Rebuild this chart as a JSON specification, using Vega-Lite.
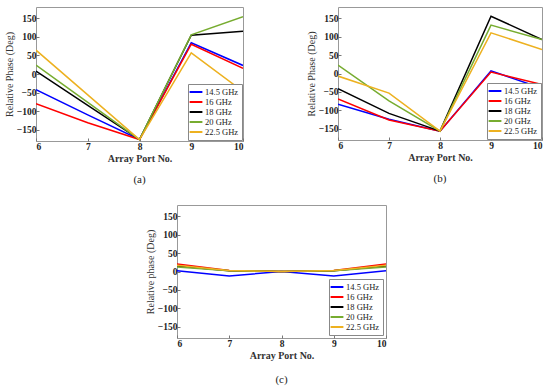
{
  "$schema": "https://vega.github.io/schema/vega-lite/v6.json",
  "padding": {"left": 3, "top": 6, "right": 4, "bottom": 2},
  "background": "white",
  "datasets": {
    "a": [
      {"port": 6, "f": "14.5 GHz", "phase": -42}, {"port": 7, "f": "14.5 GHz", "phase": -110}, {"port": 8, "f": "14.5 GHz", "phase": -176}, {"port": 9, "f": "14.5 GHz", "phase": 84}, {"port": 10, "f": "14.5 GHz", "phase": 23},
      {"port": 6, "f": "16 GHz", "phase": -80}, {"port": 7, "f": "16 GHz", "phase": -131}, {"port": 8, "f": "16 GHz", "phase": -176}, {"port": 9, "f": "16 GHz", "phase": 80}, {"port": 10, "f": "16 GHz", "phase": 15},
      {"port": 6, "f": "18 GHz", "phase": 8}, {"port": 7, "f": "18 GHz", "phase": -84}, {"port": 8, "f": "18 GHz", "phase": -176}, {"port": 9, "f": "18 GHz", "phase": 104}, {"port": 10, "f": "18 GHz", "phase": 115},
      {"port": 6, "f": "20 GHz", "phase": 24}, {"port": 7, "f": "20 GHz", "phase": -76}, {"port": 8, "f": "20 GHz", "phase": -176}, {"port": 9, "f": "20 GHz", "phase": 105}, {"port": 10, "f": "20 GHz", "phase": 154},
      {"port": 6, "f": "22.5 GHz", "phase": 64}, {"port": 7, "f": "22.5 GHz", "phase": -56}, {"port": 8, "f": "22.5 GHz", "phase": -176}, {"port": 9, "f": "22.5 GHz", "phase": 57}, {"port": 10, "f": "22.5 GHz", "phase": -47}
    ],
    "b": [
      {"port": 6, "f": "14.5 GHz", "phase": -83}, {"port": 7, "f": "14.5 GHz", "phase": -124}, {"port": 8, "f": "14.5 GHz", "phase": -156}, {"port": 9, "f": "14.5 GHz", "phase": 7}, {"port": 10, "f": "14.5 GHz", "phase": -40},
      {"port": 6, "f": "16 GHz", "phase": -69}, {"port": 7, "f": "16 GHz", "phase": -126}, {"port": 8, "f": "16 GHz", "phase": -156}, {"port": 9, "f": "16 GHz", "phase": 4}, {"port": 10, "f": "16 GHz", "phase": -30},
      {"port": 6, "f": "18 GHz", "phase": -41}, {"port": 7, "f": "18 GHz", "phase": -108}, {"port": 8, "f": "18 GHz", "phase": -156}, {"port": 9, "f": "18 GHz", "phase": 155}, {"port": 10, "f": "18 GHz", "phase": 92},
      {"port": 6, "f": "20 GHz", "phase": 23}, {"port": 7, "f": "20 GHz", "phase": -74}, {"port": 8, "f": "20 GHz", "phase": -156}, {"port": 9, "f": "20 GHz", "phase": 131}, {"port": 10, "f": "20 GHz", "phase": 92},
      {"port": 6, "f": "22.5 GHz", "phase": -7}, {"port": 7, "f": "22.5 GHz", "phase": -53}, {"port": 8, "f": "22.5 GHz", "phase": -156}, {"port": 9, "f": "22.5 GHz", "phase": 110}, {"port": 10, "f": "22.5 GHz", "phase": 65}
    ],
    "c": [
      {"port": 6, "f": "14.5 GHz", "phase": 2}, {"port": 7, "f": "14.5 GHz", "phase": -12}, {"port": 8, "f": "14.5 GHz", "phase": 0}, {"port": 9, "f": "14.5 GHz", "phase": -12}, {"port": 10, "f": "14.5 GHz", "phase": 2},
      {"port": 6, "f": "16 GHz", "phase": 20}, {"port": 7, "f": "16 GHz", "phase": 3}, {"port": 8, "f": "16 GHz", "phase": 0}, {"port": 9, "f": "16 GHz", "phase": 3}, {"port": 10, "f": "16 GHz", "phase": 20},
      {"port": 6, "f": "18 GHz", "phase": 15}, {"port": 7, "f": "18 GHz", "phase": 2}, {"port": 8, "f": "18 GHz", "phase": 0}, {"port": 9, "f": "18 GHz", "phase": 2}, {"port": 10, "f": "18 GHz", "phase": 15},
      {"port": 6, "f": "20 GHz", "phase": 12}, {"port": 7, "f": "20 GHz", "phase": 2}, {"port": 8, "f": "20 GHz", "phase": 0}, {"port": 9, "f": "20 GHz", "phase": 2}, {"port": 10, "f": "20 GHz", "phase": 12},
      {"port": 6, "f": "22.5 GHz", "phase": 17}, {"port": 7, "f": "22.5 GHz", "phase": 3}, {"port": 8, "f": "22.5 GHz", "phase": 0}, {"port": 9, "f": "22.5 GHz", "phase": 3}, {"port": 10, "f": "22.5 GHz", "phase": 17}
    ],
    "blank": [{"k": 0}]
  },
  "spacing": 17,
  "vconcat": [
    {
      "spacing": 61,
      "hconcat": [
        {
          "width": 207, "height": 134,
          "data": {"name": "a"},
          "title": {"text": "(a)", "orient": "bottom"},
          "mark": {"type": "line", "strokeWidth": 1.5, "clip": true},
          "encoding": {
            "x": {"field": "port", "type": "quantitative", "scale": {"domain": [6, 10], "nice": false}, "axis": {"values": [6, 7, 8, 9, 10], "format": "d", "title": "Array Port No."}},
            "y": {"field": "phase", "type": "quantitative", "scale": {"domain": [-180, 180], "nice": false}, "axis": {"values": [-150, -100, -50, 0, 50, 100, 150], "title": "Relative Phase (Deg)"}},
            "color": {"field": "f", "type": "nominal", "scale": {"domain": ["14.5 GHz", "16 GHz", "18 GHz", "20 GHz", "22.5 GHz"], "range": ["#0000ff", "#ff0000", "#000000", "#77ac30", "#edb120"]}, "legend": {"title": null}}
          }
        },
        {
          "width": 204, "height": 133,
          "data": {"name": "b"},
          "title": {"text": "(b)", "orient": "bottom"},
          "mark": {"type": "line", "strokeWidth": 1.5, "clip": true},
          "encoding": {
            "x": {"field": "port", "type": "quantitative", "scale": {"domain": [6, 10], "nice": false}, "axis": {"values": [6, 7, 8, 9, 10], "format": "d", "title": "Array Port No."}},
            "y": {"field": "phase", "type": "quantitative", "scale": {"domain": [-180, 180], "nice": false}, "axis": {"values": [-150, -100, -50, 0, 50, 100, 150], "title": "Relative Phase (Deg)"}},
            "color": {"field": "f", "type": "nominal", "scale": {"domain": ["14.5 GHz", "16 GHz", "18 GHz", "20 GHz", "22.5 GHz"], "range": ["#0000ff", "#ff0000", "#000000", "#77ac30", "#edb120"]}, "legend": {"title": null}}
          }
        }
      ],
      "resolve": {"legend": {"color": "independent"}, "scale": {"x": "independent", "y": "independent", "color": "independent"}}
    },
    {
      "spacing": 104,
      "hconcat": [
        {
          "width": 1, "height": 1,
          "data": {"name": "blank"},
          "mark": {"type": "point", "opacity": 0},
          "encoding": {}
        },
        {
          "width": 209, "height": 133,
          "data": {"name": "c"},
          "title": {"text": "(c)", "orient": "bottom", "offset": 13},
          "mark": {"type": "line", "strokeWidth": 1.5, "clip": true},
          "encoding": {
            "x": {"field": "port", "type": "quantitative", "scale": {"domain": [6, 10], "nice": false}, "axis": {"values": [6, 7, 8, 9, 10], "format": "d", "title": "Array Port No."}},
            "y": {"field": "phase", "type": "quantitative", "scale": {"domain": [-180, 180], "nice": false}, "axis": {"values": [-150, -100, -50, 0, 50, 100, 150], "title": "Relative phase (Deg)"}},
            "color": {"field": "f", "type": "nominal", "scale": {"domain": ["14.5 GHz", "16 GHz", "18 GHz", "20 GHz", "22.5 GHz"], "range": ["#0000ff", "#ff0000", "#000000", "#77ac30", "#edb120"]}, "legend": {"title": null, "offset": 3}}
          }
        }
      ],
      "resolve": {"legend": {"color": "independent"}, "scale": {"color": "independent"}}
    }
  ],
  "resolve": {"legend": {"color": "independent"}, "scale": {"color": "independent"}},
  "config": {
    "font": "Liberation Serif",
    "view": {"stroke": "#999999", "strokeWidth": 1},
    "axis": {
      "grid": false, "domain": false,
      "labelFont": "Liberation Serif", "labelFontSize": 9.5, "labelFontWeight": "bold", "labelColor": "#222222", "labelPadding": 3,
      "tickColor": "#777777", "tickSize": -3,
      "titleFont": "Liberation Serif", "titleFontSize": 10, "titleColor": "#333333"
    },
    "axisX": {"titleFontWeight": "bold", "titlePadding": 3},
    "axisY": {"titleFontWeight": "normal", "titlePadding": 2},
    "legend": {
      "orient": "bottom-right", "offset": 1, "strokeColor": "#888888", "fillColor": "white", "padding": 3,
      "symbolType": "M-1.6,0H1.6", "symbolSize": 64, "symbolStrokeWidth": 2, "labelFont": "Liberation Serif", "labelFontSize": 8.5, "labelColor": "#222222", "rowPadding": 0, "labelOffset": 4
    },
    "title": {"font": "Liberation Serif", "fontSize": 11, "fontWeight": "normal", "color": "#222222", "offset": 10}
  }
}
